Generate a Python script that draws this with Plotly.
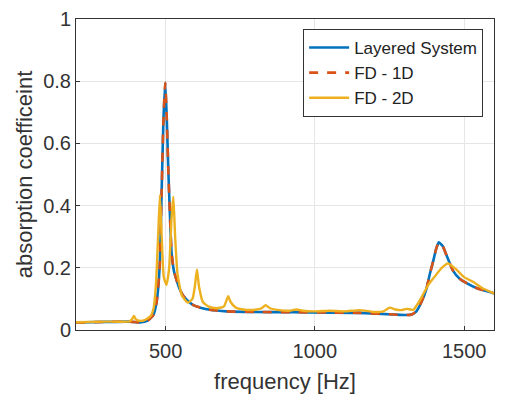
import plotly.graph_objects as go

# Layered system (analytic) - FD-1D lies on top of it
freq_ls = [200, 300, 380, 414, 440, 459, 470, 480, 487, 493, 499, 504, 509, 515, 520,
           528, 537, 548, 559, 575, 593, 620, 648, 704, 800, 927, 1050, 1150, 1262,
           1307, 1325, 1340, 1357, 1373, 1385, 1396, 1406, 1415, 1428, 1441, 1463,
           1485, 1510, 1541, 1570, 1600]
alpha_ls = [0.024, 0.026, 0.027, 0.024, 0.03, 0.048, 0.09, 0.2, 0.45, 0.68, 0.795, 0.68,
            0.52, 0.36, 0.25, 0.19, 0.16, 0.13, 0.11, 0.093, 0.08, 0.071, 0.065, 0.06,
            0.058, 0.057, 0.056, 0.055, 0.05, 0.048, 0.05, 0.06, 0.09, 0.13, 0.18, 0.22,
            0.26, 0.282, 0.27, 0.24, 0.19, 0.165, 0.15, 0.135, 0.126, 0.118]

freq_1d = list(freq_ls)
alpha_1d = list(alpha_ls)

freq_2d = [200, 300, 380, 388, 394, 400, 410, 430, 450, 460, 468, 475, 481, 487, 494,
           503, 512, 520, 526, 532, 540, 555, 575, 590, 598, 605, 612, 625, 645, 670,
           695, 704, 710, 718, 735, 760, 800, 822, 835, 850, 880, 915, 938, 960, 1000,
           1050, 1100, 1150, 1200, 1230, 1251, 1270, 1290, 1307, 1330, 1345, 1360, 1380,
           1400, 1425, 1446, 1470, 1500, 1530, 1560, 1600]
alpha_2d = [0.025, 0.027, 0.028, 0.035, 0.045, 0.035, 0.03, 0.032, 0.045, 0.07, 0.15,
            0.3, 0.434, 0.3, 0.17, 0.145, 0.2, 0.36, 0.429, 0.3, 0.18, 0.11, 0.088, 0.1,
            0.14, 0.195, 0.14, 0.09, 0.075, 0.07, 0.075, 0.095, 0.109, 0.09, 0.072, 0.066,
            0.065, 0.07, 0.08, 0.07, 0.064, 0.062, 0.066, 0.062, 0.06, 0.062, 0.06, 0.064,
            0.058, 0.06, 0.072, 0.066, 0.064, 0.068, 0.065, 0.085, 0.11, 0.145, 0.17, 0.2,
            0.214, 0.198, 0.17, 0.155, 0.135, 0.118]

x_ticks = [500, 1000, 1500]
y_ticks = [0, 0.2, 0.4, 0.6, 0.8, 1]
y_tick_text = ["0", "0.2", "0.4", "0.6", "0.8", "1"]

FONT = "Liberation Sans, Arial, sans-serif"

fig = go.Figure()
fig.add_trace(go.Scatter(x=freq_ls, y=alpha_ls, mode="lines", name="Layered System",
                         line=dict(color="#0072BD", width=2.6, shape="spline", smoothing=0.5)))
fig.add_trace(go.Scatter(x=freq_1d, y=alpha_1d, mode="lines", name="FD - 1D",
                         line=dict(color="#D95319", width=2.6, dash="dash",
                                   shape="spline", smoothing=0.5)))
fig.add_trace(go.Scatter(x=freq_2d, y=alpha_2d, mode="lines", name="FD - 2D",
                         line=dict(color="#EDB120", width=2.4, shape="spline", smoothing=0.5)))

axis_common = dict(showgrid=True, gridcolor="#e6e6e6", gridwidth=1, automargin=False,
                   showline=True, linecolor="#333333", linewidth=1, mirror=True,
                   ticks="inside", ticklen=4, tickcolor="#333333", zeroline=False,
                   tickfont=dict(family=FONT, size=20, color="#333333"))

fig.update_xaxes(range=[200, 1600], tickvals=x_ticks, ticklabelstandoff=3,
                 title=dict(text="frequency [Hz]", standoff=12,
                            font=dict(family=FONT, size=22, color="#333333")),
                 **axis_common)
fig.update_yaxes(range=[0, 1], tickvals=y_ticks, ticktext=y_tick_text,
                 title=dict(text="absorption coefficeint", standoff=4,
                            font=dict(family=FONT, size=22, color="#333333")),
                 **axis_common)

# page body adds an 8px offset, so margins are shifted to compensate
fig.update_layout(width=514, height=403, plot_bgcolor="white", paper_bgcolor="white",
                  margin=dict(l=68, r=28, t=11, b=81),
                  legend=dict(x=0.974, y=0.968, xanchor="right", yanchor="top",
                              bgcolor="white", bordercolor="#333333", borderwidth=1,
                              font=dict(family=FONT, size=17, color="#222222"),
                              tracegroupgap=0, itemwidth=40))

fig.write_html("out.html")
